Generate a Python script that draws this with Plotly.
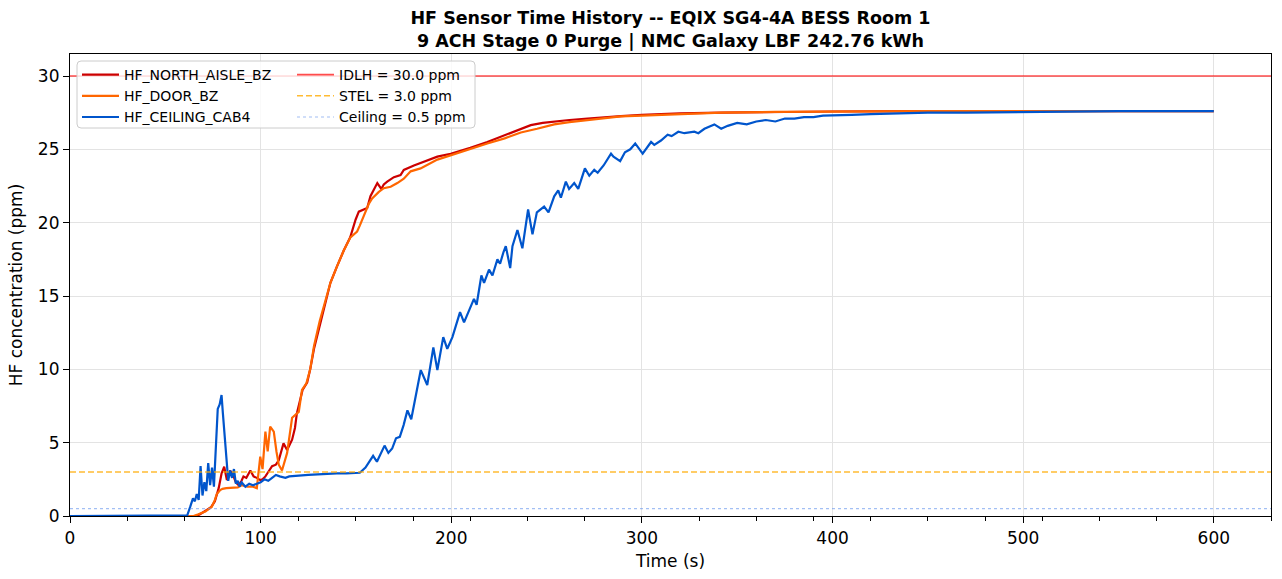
import plotly.graph_objects as go

# ---------------- data ----------------
t_north = [0, 66, 68, 70, 72, 74, 76, 78, 79.5, 80.9, 82.3, 84, 85.8, 87, 88.5, 90, 91, 92.5, 94.6, 96.3, 98,
           99.8, 101, 102.5, 104, 106, 108, 109.5, 112, 113.9, 116.5, 118, 119, 120.5, 122, 124.4, 126, 128,
           131.4, 134, 136.6, 140, 143.6, 147, 149.8, 151.5, 155.9, 157.6, 161.2, 163.3, 164.6, 166.4, 169.9,
           173.4, 175.1, 180.4, 185.7, 192.7, 199.7, 210, 218.9, 228, 236.5, 241.7, 248, 254, 262, 271.5, 280,
           289, 300, 320, 341.6, 370, 400, 450, 500, 600]
c_north = [0, 0, 0.1, 0.25, 0.4, 0.6, 1.0, 1.9, 2.9, 3.36, 2.45, 3.1, 2.7, 2.3, 2.1, 2.4, 2.7, 2.6, 3.1, 2.7, 2.6,
           2.45, 2.5, 2.7, 3.0, 3.4, 3.5, 3.8, 4.95, 4.5, 5.2, 6.0, 7.0, 7.8, 8.6, 9.1, 10.0, 11.4,
           13.1, 14.4, 15.9, 17.0, 18.1, 19.0, 20.2, 20.75, 21.0, 21.8, 22.7, 22.3, 22.6, 22.8, 23.1,
           23.25, 23.6, 23.9, 24.15, 24.5, 24.7, 25.1, 25.5, 25.95, 26.4, 26.65, 26.8, 26.9, 27.0, 27.1, 27.2,
           27.27, 27.35, 27.45, 27.5, 27.55, 27.58, 27.6, 27.6, 27.6]

t_door = [0, 64.8, 67, 69, 71, 72.5, 74.4, 76, 77, 78.8, 80, 82, 85, 88, 90, 93, 96, 98, 99.8, 101, 102.5, 103.7,
          105, 106.9, 108.3, 109.5, 111.2, 113.9, 116.5, 119, 120, 121.7, 124, 126, 128, 131, 134, 136.6, 140,
          143.6, 147.1, 150.6, 152, 154.1, 156.8, 158.5, 162, 164.6, 168.2, 171.7, 175.1, 178.7, 183.9, 192.7,
          199.7, 210, 218.9, 228, 236.5, 245, 254, 262, 271.5, 280, 289, 300, 320, 341.6, 370, 400, 450, 600]
c_door = [0, 0, 0.1, 0.2, 0.3, 0.45, 0.63, 1.1, 1.5, 1.77, 1.85, 1.9, 1.9, 1.95, 2.1, 2.0, 2.0, 1.9, 4.05, 3.2,
          5.75, 4.4, 6.1, 5.75, 4.4, 3.5, 3.1, 4.3, 6.7, 7.0, 7.1, 8.6, 9.05, 10.0, 11.6, 13.3, 14.6, 15.9, 17.0,
          18.1, 19.0, 19.4, 19.8, 20.5, 21.3, 21.65, 22.1, 22.35, 22.45, 22.7, 23.0, 23.5, 23.7, 24.3,
          24.6, 25.0, 25.4, 25.75, 26.15, 26.4, 26.7, 26.85, 27.0, 27.15, 27.25, 27.3, 27.42, 27.5, 27.55,
          27.58, 27.6, 27.6]

t_ceiling = [0, 60, 61.5, 63, 64.5, 65.5, 66.5, 67.5, 68.5, 69.5, 70.5, 71.5, 72.5, 73.5, 74.5, 75.5, 76.5, 77.5,
             78.5, 79.5, 80.2, 81, 82, 83, 84, 85, 86, 87, 88, 89, 90, 92, 94, 96, 98, 100, 102, 104, 106, 108,
             110, 112, 113, 115, 118, 120, 125, 130, 135, 140, 145, 150, 152, 155, 157, 159, 161, 163, 165, 167,
             169, 171, 173, 175, 177, 179, 181, 182.5, 184, 187.4, 190.6, 192.7, 195.8, 197.9, 200.6, 204.6,
             206.7, 211.9, 213.3, 215.8, 217.2, 219.8, 221.6, 224.2, 225.6, 227.4, 228.6, 230.9, 232.1, 234.7,
             237.3, 240.3, 242.6, 244.9, 248.7, 251, 254, 256.1, 257.5, 260.1, 261.8, 264.5, 266.6, 270.1,
             272.4, 275, 276.8, 279.9, 283.8, 285.1, 288.6, 291.1, 293.9, 296.5, 300.4, 304.8, 306.5, 310,
             313.5, 315.6, 319.1, 322.3, 327.5, 329.6, 332.8, 338, 341.6, 345, 350, 355, 360, 365, 370, 375,
             380, 385, 390, 395, 400, 410, 420, 430, 440, 450, 470, 500, 550, 600]
c_ceiling = [0, 0, 0.05, 0.6, 1.2, 1.0, 1.5, 1.1, 3.4, 1.4, 2.3, 1.7, 3.6, 2.1, 3.3, 2.0, 4.6, 7.3,
             7.6, 8.25, 7.0, 5.5, 4.2, 2.4, 3.1, 2.6, 3.2, 2.2, 2.4, 2.0, 2.3, 2.0, 2.2, 2.1, 2.2, 2.3, 2.5, 2.4,
             2.6, 2.8, 2.7, 2.6, 2.6, 2.7, 2.7, 2.75, 2.8, 2.85, 2.9, 2.9, 2.9, 2.9, 2.95, 3.3, 3.7, 4.1, 3.7,
             4.2, 4.8, 4.3, 4.6, 5.3, 5.4, 6.2, 7.2, 6.6, 8.0, 8.8, 9.95, 8.93, 11.5, 9.95, 12.2, 11.4, 12.2,
             13.9, 13.2, 14.8, 14.4, 16.4, 15.9, 16.8, 16.4, 17.5, 17.2, 18.0, 18.4, 16.9, 18.4, 19.5,
             18.25, 20.9, 19.2, 20.7, 21.1, 20.7, 21.8, 22.2, 21.7, 22.8, 22.3, 22.7, 22.3, 23.7,
             23.2, 23.6, 23.4, 23.9, 24.7, 24.5, 24.2, 24.8, 25.0, 25.4, 24.7, 25.5, 25.3, 25.6,
             26.0, 25.9, 26.2, 26.1, 26.2, 26.1, 26.4, 26.7, 26.4, 26.6, 26.8, 26.7, 26.9, 27.0, 26.9, 27.1,
             27.1, 27.2, 27.2, 27.3, 27.3, 27.35, 27.4, 27.45, 27.45, 27.5, 27.5, 27.55, 27.6, 27.6]

IDLH = 30.0
STEL = 3.0
CEILING = 0.5
X_RANGE = [0, 630]
Y_RANGE = [0, 31.5]
X_TICKS = [0, 100, 200, 300, 400, 500, 600]
Y_TICKS = [0, 5, 10, 15, 20, 25, 30]

# ---------------- figure ----------------
FONT = "DejaVu Sans"
W, H = 1282, 579
ML, MR, MT, MB = 70, 11, 54, 63
PW, PH = W - ML - MR, H - MT - MB


def px_x(p):
    return (p - ML) / PW


def px_y(p):
    return (H - MB - p) / PH


fig = go.Figure()

sensors = [
    ("HF_NORTH_AISLE_BZ", t_north, c_north, "#cc0000"),
    ("HF_DOOR_BZ", t_door, c_door, "#ff6600"),
    ("HF_CEILING_CAB4", t_ceiling, c_ceiling, "#0055cc"),
]
for name, t, c, col in sensors:
    fig.add_trace(go.Scatter(x=t, y=c, mode="lines", name=name, legend="legend",
                             legendgroup=name,
                             line=dict(color=col, width=2.2)))

thresholds = [
    (f"IDLH = {IDLH:.1f} ppm", IDLH, "rgba(255,0,0,0.7)", "solid", 1.6),
    (f"STEL = {STEL:.1f} ppm", STEL, "rgba(255,170,0,0.8)", "6px,3px", 1.4),
    (f"Ceiling = {CEILING:.1f} ppm", CEILING, "rgba(100,149,237,0.6)", "dot", 1.2),
]
for name, v, col, dash, w in thresholds:
    fig.add_trace(go.Scatter(x=X_RANGE, y=[v, v], mode="lines", name=name, legend="legend2",
                             legendgroup=name,
                             line=dict(color=col, width=w, dash=dash)))

axis_common = dict(
    showline=True, linecolor="black", linewidth=1.2, mirror=True,
    ticks="outside", ticklen=6, tickwidth=1.2, tickcolor="black",
    showgrid=True, gridcolor="#e3e3e3", gridwidth=1,
    zeroline=False,
    tickfont=dict(family=FONT, size=17, color="#000"),
)

fig.update_xaxes(range=X_RANGE, tickvals=X_TICKS,
                 title=dict(text="Time (s)", font=dict(family=FONT, size=17, color="#000"), standoff=8),
                 minor=dict(dtick=30, tick0=0, ticks="outside", ticklen=4, tickcolor="black", tickwidth=1,
                            showgrid=False),
                 **axis_common)
fig.update_yaxes(range=Y_RANGE, tickvals=Y_TICKS,
                 title=dict(text="HF concentration (ppm)", font=dict(family=FONT, size=17, color="#000"),
                            standoff=10),
                 **axis_common)

legend_common = dict(
    bgcolor="rgba(0,0,0,0)", borderwidth=0,
    font=dict(family=FONT, size=14, color="#000"),
    xanchor="left", yanchor="top", tracegroupgap=0,
    orientation="v", itemwidth=37,
)

# rounded legend frame
bx0, bx1, by0, by1 = px_x(77), px_x(475), px_y(128), px_y(61)
rx, ry = 4 / PW, 4 / PH
frame_path = (f"M{bx0 + rx},{by1} L{bx1 - rx},{by1} Q{bx1},{by1} {bx1},{by1 - ry} "
              f"L{bx1},{by0 + ry} Q{bx1},{by0} {bx1 - rx},{by0} "
              f"L{bx0 + rx},{by0} Q{bx0},{by0} {bx0},{by0 + ry} "
              f"L{bx0},{by1 - ry} Q{bx0},{by1} {bx0 + rx},{by1} Z")

fig.update_layout(
    width=W, height=H,
    margin=dict(l=ML, r=MR, t=MT, b=MB, pad=0),
    plot_bgcolor="white", paper_bgcolor="white",
    title=dict(text="<b>HF Sensor Time History -- EQIX SG4-4A BESS Room 1</b><br>"
                    "<b>9 ACH Stage 0 Purge | NMC Galaxy LBF 242.76 kWh</b>",
               x=px_x((ML + W - MR) / 2), xanchor="center", xref="paper",
               y=1 - 24 / H, yanchor="top", yref="container",
               font=dict(family=FONT, size=17.5, color="#000")),
    legend=dict(x=px_x(77), y=px_y(59), **legend_common),
    legend2=dict(x=px_x(292), y=px_y(59), **legend_common),
    showlegend=True,
    shapes=[dict(type="path", xref="paper", yref="paper", path=frame_path,
                 fillcolor="rgba(255,255,255,0.8)", line=dict(color="#cccccc", width=1),
                 layer="above")],
)

fig.write_html("out.html")
